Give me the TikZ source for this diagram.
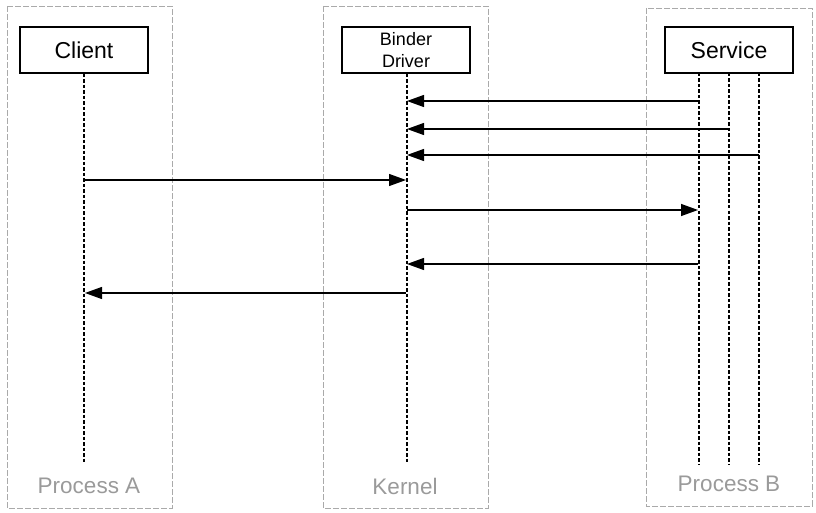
\documentclass[tikz,border=0pt]{standalone}
\usepackage{fontspec}
\setmainfont{Liberation Sans}
\usetikzlibrary{arrows.meta}
\definecolor{frame}{HTML}{AAAAAA}
\definecolor{labelgray}{HTML}{9A9A9A}
\begin{document}
\begin{tikzpicture}[x=1pt,y=-1pt,
  container/.style={draw=frame,dash pattern=on 6pt off 2pt,line width=0.9pt},
  actor/.style={draw=black,line width=1.4pt,minimum width=128pt,minimum height=46pt,inner sep=0pt,fill=white},
  lifeline/.style={draw=black,line width=1.3pt,dash pattern=on 3.5pt off 2pt},
  msg/.style={draw=black,line width=1.3pt,-{Triangle[length=17pt,width=12pt]}},
  proclabel/.style={text=labelgray,font=\fontsize{22.5}{24}\selectfont,inner sep=0pt}
]
\useasboundingbox (0,0) rectangle (816,513);
% containers
\draw[container] (7,6) rectangle (172,508);
\draw[container] (323,6) rectangle (488,508);
\draw[container] (646,8) rectangle (812,506);
\node[proclabel] (pa) at (89,486) {Process A};
\node[proclabel] (pk) at (405,486) {Kernel};
\node[proclabel] (pb) at (729,484) {Process B};
% actors
\node[actor,font=\fontsize{23}{24}\selectfont] (client) at (84,50) {Client};
\node[actor,align=center,font=\fontsize{18}{22}\selectfont] (binder) at (406,50) {Binder\\Driver};
\node[actor,font=\fontsize{23}{24}\selectfont] (service) at (729,50) {Service};
% lifeline ends
\coordinate (cend) at (84,464);
\coordinate (bend) at (407,464);
\coordinate (s1top) at (699,73);
\coordinate (s2top) at (729,73);
\coordinate (s3top) at (759,73);
\coordinate (s1end) at (699,464);
\coordinate (s2end) at (729,464);
\coordinate (s3end) at (759,464);
\draw[lifeline] (client.south) -- (cend);
\draw[lifeline] (binder.south -| bend) -- (bend);
\draw[lifeline] (s1top) -- (s1end);
\draw[lifeline] (s2top) -- (s2end);
\draw[lifeline] (s3top) -- (s3end);
% message endpoints
\coordinate (m1s) at (699,101); \coordinate (m1e) at (407,101);
\coordinate (m2s) at (729,129); \coordinate (m2e) at (407,129);
\coordinate (m3s) at (759,155); \coordinate (m3e) at (407,155);
\coordinate (m4s) at (84,180);  \coordinate (m4e) at (406,180);
\coordinate (m5s) at (407,210); \coordinate (m5e) at (698,210);
\coordinate (m6s) at (698,264); \coordinate (m6e) at (407,264);
\coordinate (m7s) at (406,293); \coordinate (m7e) at (85,293);
\draw[msg] (m1s) -- (m1e);
\draw[msg] (m2s) -- (m2e);
\draw[msg] (m3s) -- (m3e);
\draw[msg] (m4s) -- (m4e);
\draw[msg] (m5s) -- (m5e);
\draw[msg] (m6s) -- (m6e);
\draw[msg] (m7s) -- (m7e);
\end{tikzpicture}
\end{document}
